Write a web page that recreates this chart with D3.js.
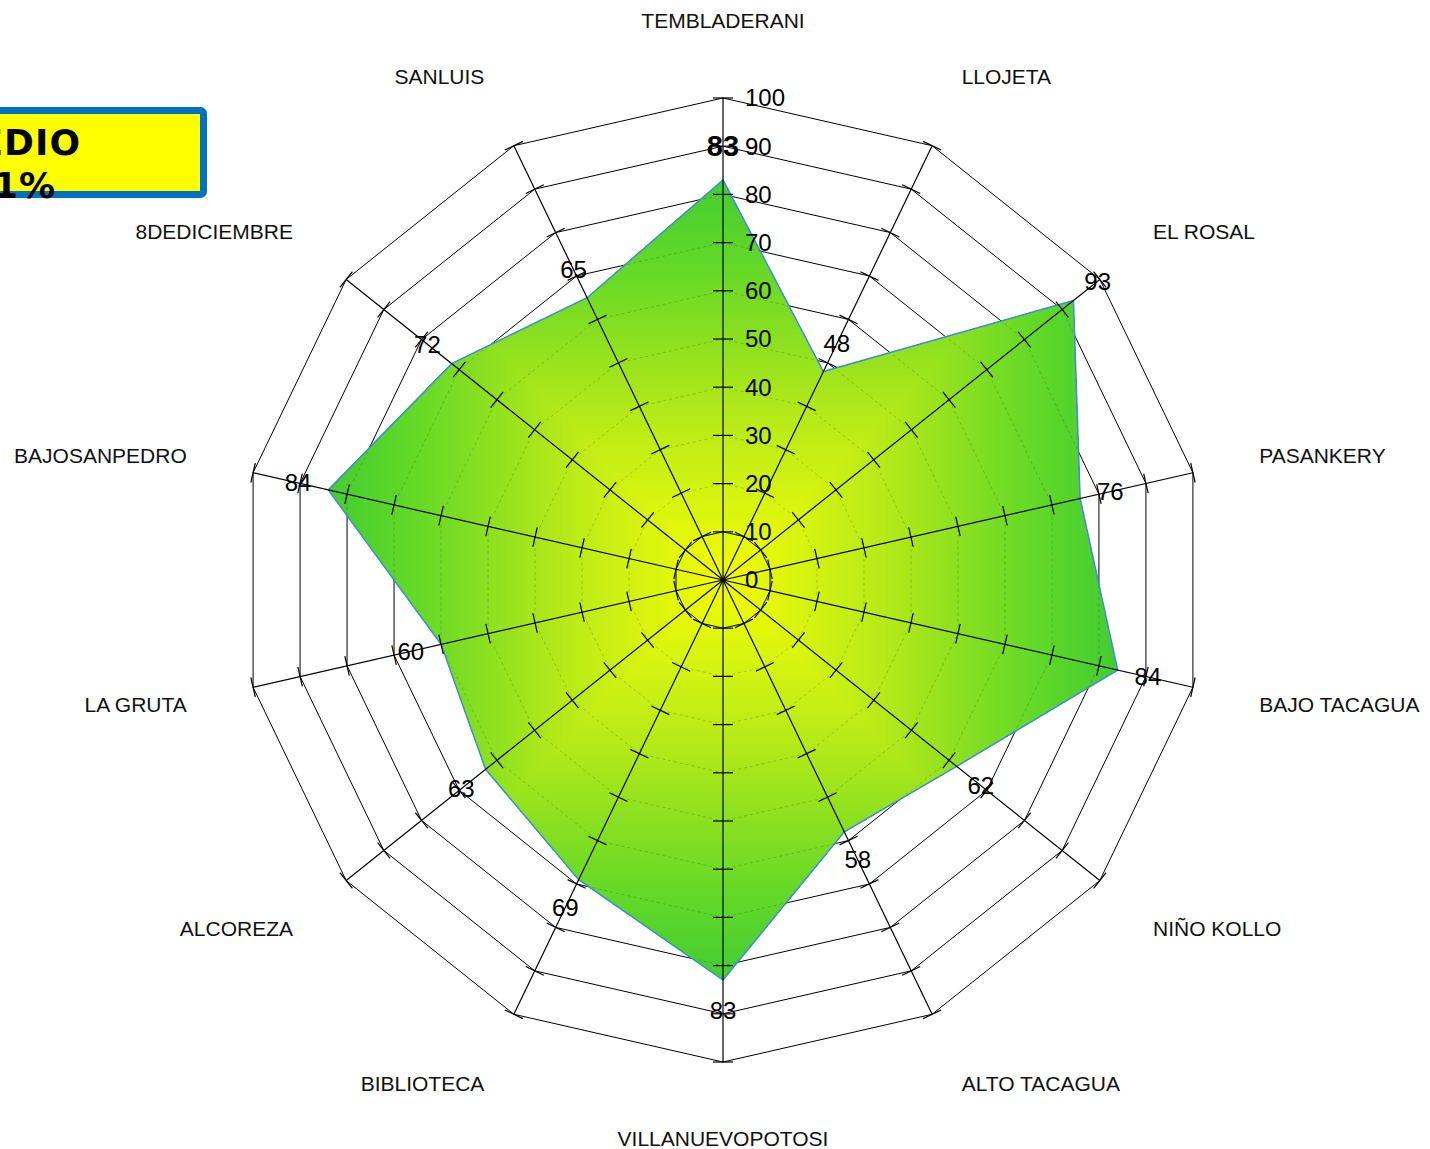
<!DOCTYPE html>
<html>
<head>
<meta charset="utf-8">
<script src="https://cdn.jsdelivr.net/npm/d3@7"></script>
<style>
  html, body { margin: 0; padding: 0; background: #fff; overflow: hidden; }
  svg { display: block; font-family: "Liberation Sans", Arial, sans-serif; }
</style>
</head>
<body>
<svg id="chart" width="1430" height="1149"></svg>
<script>
// data
const categories = [
  "TEMBLADERANI", "LLOJETA", "EL ROSAL", "PASANKERY", "BAJO TACAGUA",
  "NIÑO KOLLO", "ALTO TACAGUA", "VILLANUEVOPOTOSI", "BIBLIOTECA",
  "ALCOREZA", "LA GRUTA", "BAJOSANPEDRO", "8DEDICIEMBRE", "SANLUIS"
];
const values = [83, 48, 93, 76, 84, 62, 58, 83, 69, 63, 60, 84, 72, 65];
const ticks = [0, 10, 20, 30, 40, 50, 60, 70, 80, 90, 100];
const boxLines = ["PROMEDIO", "71%"];

const svg = d3.select("#chart"),
  cx = 723,
  cy = 580,
  outerRadius = 482;

const n = categories.length;
const angle = d3.scaleLinear().domain([0, n]).range([0, 2 * Math.PI]);
const r = d3.scaleLinear().domain([0, 100]).range([0, outerRadius]);

function pt(i, v) {
  const a = angle(i);
  return [cx + r(v) * Math.sin(a), cy - r(v) * Math.cos(a)];
}
function ring(v) {
  return d3.range(n).map(i => pt(i, v));
}
const line = d3.line().curve(d3.curveLinearClosed);

// grid rings (under the fill)
svg.append("g").selectAll("path")
  .data(ticks.slice(1))
  .enter().append("path")
  .attr("d", d => line(ring(d)))
  .attr("fill", "none")
  .attr("stroke", "#000")
  .attr("stroke-width", 1);

// data polygon with a rectangular "from center" gradient
const poly = values.map((v, i) => pt(i, v));
const halfW = d3.max(poly, p => Math.abs(p[0] - cx));
const halfH = d3.max(poly, p => Math.abs(p[1] - cy));

svg.append("clipPath").attr("id", "polyClip")
  .append("path").attr("d", line(poly));

const color = d3.scaleLinear()
  .domain([0, 0.2, 0.4, 0.6, 0.8, 1])
  .range(["#f2fc00", "#d8f410", "#b8ea18", "#8ce020", "#60d828", "#44cc30"])
  .interpolate(d3.interpolateRgb);

const steps = d3.range(120, 0, -1).map(k => k / 120);
svg.append("g")
  .attr("clip-path", "url(#polyClip)")
  .selectAll("rect")
  .data(steps)
  .enter().append("rect")
  .attr("x", t => cx - halfW * t - 1)
  .attr("y", t => cy - halfH * t - 1)
  .attr("width", t => 2 * halfW * t + 2)
  .attr("height", t => 2 * halfH * t + 2)
  .attr("fill", t => color(t));

// faint rings seen through the fill
svg.append("g")
  .attr("clip-path", "url(#polyClip)")
  .selectAll("path")
  .data(ticks.slice(2))
  .enter().append("path")
  .attr("d", d => line(ring(d)))
  .attr("fill", "none")
  .attr("stroke", "#000")
  .attr("stroke-opacity", 0.18)
  .attr("stroke-dasharray", "3,3")
  .attr("stroke-width", 1);

svg.append("path")
  .attr("d", line(poly))
  .attr("fill", "none")
  .attr("stroke", "#3a8fd8")
  .attr("stroke-width", 1.5);

// innermost ring stays solid
svg.append("path")
  .attr("d", line(ring(10)))
  .attr("fill", "none")
  .attr("stroke", "#000")
  .attr("stroke-width", 1);

// spokes with tick marks
const spokes = svg.append("g");
d3.range(n).forEach(i => {
  const a = angle(i);
  const s = spokes.append("g")
    .attr("transform", "translate(" + cx + "," + cy + ")rotate(" + (a * 180 / Math.PI) + ")");
  s.append("line")
    .attr("x1", 0).attr("y1", 0)
    .attr("x2", 0).attr("y2", -r(100))
    .attr("stroke", "#000").attr("stroke-width", 1.2);
  s.selectAll("line.tick")
    .data(ticks.slice(1))
    .enter().append("line")
    .attr("class", "tick")
    .attr("x1", -10).attr("x2", 10)
    .attr("y1", d => -r(d)).attr("y2", d => -r(d))
    .attr("stroke", "#000").attr("stroke-width", 1.2);
});

// value axis labels along the top spoke
svg.append("g").selectAll("text")
  .data(ticks)
  .enter().append("text")
  .attr("x", cx + 22)
  .attr("y", d => cy - r(d))
  .attr("dy", "0.35em")
  .attr("font-size", 24)
  .attr("fill", "#000")
  .text(d => d);

// data labels
svg.append("g").selectAll("text")
  .data(values)
  .enter().append("text")
  .attr("x", (d, i) => cx + (r(d) + 31) * Math.sin(angle(i)))
  .attr("y", (d, i) => cy - (r(d) + (i === 0 ? 34 : 31)) * Math.cos(angle(i)))
  .attr("dy", "0.35em")
  .attr("text-anchor", "middle")
  .attr("font-size", (d, i) => i === 0 ? 29 : 24)
  .attr("font-weight", (d, i) => i === 0 ? "bold" : "normal")
  .attr("fill", "#000")
  .text(d => d);

// category labels
svg.append("g").selectAll("text")
  .data(categories)
  .enter().append("text")
  .attr("x", (d, i) => cx + 550 * Math.sin(angle(i)))
  .attr("y", (d, i) => cy - 559 * Math.cos(angle(i)))
  .attr("dy", "0.35em")
  .attr("text-anchor", (d, i) => {
    const s = Math.sin(angle(i));
    return s > 0.01 ? "start" : s < -0.01 ? "end" : "middle";
  })
  .attr("font-size", 21)
  .attr("fill", "#111")
  .text(d => d);

// average box (partly outside the page)
const box = svg.append("g");
box.append("rect")
  .attr("x", -30).attr("y", 110.5)
  .attr("width", 233.5).attr("height", 84)
  .attr("rx", 3)
  .attr("fill", "#ffff00")
  .attr("stroke", "#0070c0")
  .attr("stroke-width", 7);
box.selectAll("text")
  .data(boxLines)
  .enter().append("text")
  .attr("x", (d, i) => i === 0 ? 81 : 56)
  .attr("y", (d, i) => i === 0 ? 155 : 198)
  .attr("text-anchor", "end")
  .attr("font-family", "'DejaVu Sans', Verdana, sans-serif")
  .attr("font-weight", "bold")
  .attr("font-size", 36)
  .attr("letter-spacing", 1)
  .attr("fill", "#000")
  .text(d => d);
</script>
</body>
</html>
